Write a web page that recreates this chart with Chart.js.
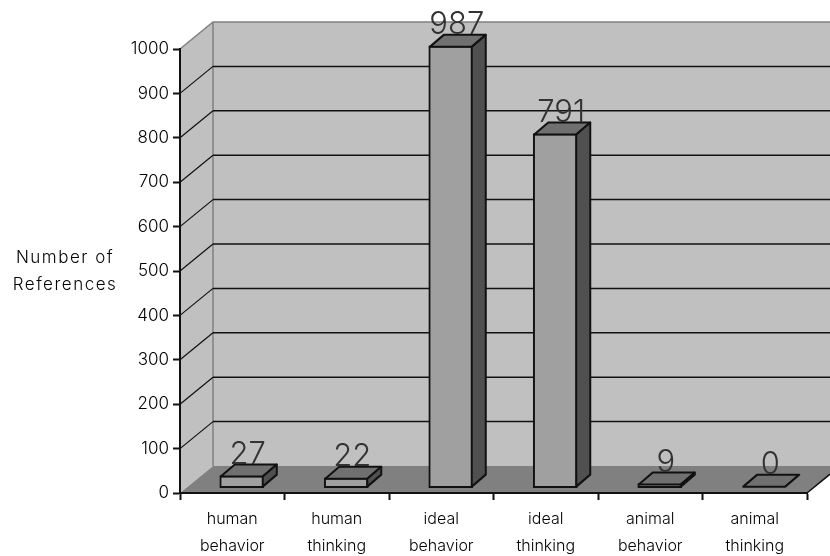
<!DOCTYPE html>
<html><head><meta charset="utf-8">
<style>html,body{margin:0;padding:0;background:#fff}#w{position:relative;width:830px;height:556px}</style>
<script src="https://cdn.jsdelivr.net/npm/chart.js@4/dist/chart.umd.min.js"></script>
</head><body><div id="w"><canvas id="c" width="830" height="556"></canvas></div>
<script>
const categories = [["human","behavior"],["human","thinking"],["ideal","behavior"],["ideal","thinking"],["animal","behavior"],["animal","thinking"]];
const references = [27,22,987,791,9,0];
const yTitleLines = ["Number of","References"];
const axisMin = 0, axisMax = 1000, axisStep = 100;
const barAxisMin = -12, barAxisMax = 980;
const wallDepth = {x:33,y:-27}, barDepth = {x:14,y:-12}, barShift = 9.5;
const valueFont = '300 31px "Inter","Liberation Sans",sans-serif';
const labelFamily = '"Inter","Liberation Sans",Arial,sans-serif';
const textSpacing = '1.5px';

const walls = {
  id:'walls',
  beforeDraw(ch){
    const c=ch.ctx, x=ch.scales.x, y=ch.scales.y, L=x.left, R=x.right, T=y.getPixelForValue(axisMax), B=y.getPixelForValue(axisMin);
    const dx=wallDepth.x, dy=wallDepth.y, W=ch.width;
    c.save();
    c.fillStyle='#c0c0c0';
    c.fillRect(L+dx,T+dy,W-L-dx,B-T);
    c.beginPath();c.moveTo(L,T);c.lineTo(L+dx,T+dy);c.lineTo(L+dx,B+dy);c.lineTo(L,B);c.closePath();c.fill();
    c.fillStyle='#808080';
    c.beginPath();c.moveTo(L,B);c.lineTo(L+dx,B+dy);c.lineTo(W,B+dy);c.lineTo(W,B+dy*(W-R)/dx);c.lineTo(R,B);c.closePath();c.fill();
    c.strokeStyle='#808080';c.lineWidth=1.5;
    c.beginPath();c.moveTo(L,T);c.lineTo(L+dx,T+dy);c.lineTo(W,T+dy);c.moveTo(L+dx,T+dy);c.lineTo(L+dx,B+dy);c.stroke();
    c.strokeStyle='#111';
    for(let v=axisMin+axisStep;v<axisMax;v+=axisStep){
      const p=y.getPixelForValue(v);
      c.lineWidth=1.5;
      c.beginPath();c.moveTo(L+dx,p+dy);c.lineTo(W,p+dy);c.stroke();
      c.lineWidth=1.2;
      c.beginPath();c.moveTo(L,p);c.lineTo(L+dx,p+dy);c.stroke();
    }
    c.lineWidth=1.5;
    c.beginPath();c.moveTo(R,B);c.lineTo(W,B+dy*(W-R)/dx);c.stroke();
    c.font='300 17px '+labelFamily;c.fillStyle='#000';c.textAlign='center';c.textBaseline='middle';
    c.letterSpacing=textSpacing;
    yTitleLines.forEach((t,i)=>c.fillText(t,65,258+i*26.5));
    c.restore();
  },
  beforeDatasetsDraw(ch){ch.ctx.save();ch.ctx.translate(barShift,0);},
  afterDatasetsDraw(ch){
    const c=ch.ctx, m=ch.getDatasetMeta(0), dx=barDepth.x, dy=barDepth.y;
    m.data.forEach((b,i)=>{
      const l=b.x-b.width/2+1, r=b.x+b.width/2-1, t=b.y+1, f=b.base-1, top=Math.min(t,f);
      c.lineWidth=2;c.strokeStyle='#111';c.lineJoin='round';
      c.fillStyle='#707070';
      c.beginPath();c.moveTo(l,top);c.lineTo(l+dx,top+dy);c.lineTo(r+dx,top+dy);c.lineTo(r,top);c.closePath();c.fill();c.stroke();
      if(f-top>0){
        c.fillStyle='#505050';
        c.beginPath();c.moveTo(r,top);c.lineTo(r+dx,top+dy);c.lineTo(r+dx,f+dy);c.lineTo(r,f);c.closePath();c.fill();c.stroke();
      }
      c.save();
      c.letterSpacing='0px';
      c.font=valueFont;c.fillStyle='#333';c.textAlign='center';c.textBaseline='alphabetic';
      c.fillText(String(references[i]),b.x+6,top+dy-1);
      c.restore();
    });
    c.restore();
  }
};

const canvas=document.getElementById('c');
canvas.getContext('2d').letterSpacing=textSpacing;
const chart = new Chart(canvas,{
  type:'bar',
  data:{labels:categories,datasets:[{data:references,yAxisID:'yBars',xAxisID:'x',backgroundColor:'#a0a0a0',borderColor:'#111',borderWidth:2,borderSkipped:false,barThickness:44,clip:false}]},
  plugins:[walls],
  options:{
    responsive:false,animation:false,
    layout:{padding:{top:49,right:23,bottom:0,left:0}},
    plugins:{legend:{display:false},tooltip:{enabled:false},title:{display:false}},
    scales:{
      x:{type:'category',offset:true,
        afterFit(s){s.height=63;},
        grid:{drawOnChartArea:false,drawTicks:true,tickLength:7,tickColor:'#111',tickWidth:2,offset:true},
        border:{display:true,color:'#111',width:2},
        ticks:{color:'#000',font:{family:labelFamily,size:16,weight:'300',lineHeight:27/16},padding:6,maxRotation:0,autoSkip:false}},
      y:{type:'linear',position:'left',min:axisMin,max:axisMax,
        afterFit(s){s.width=180;},
        grid:{drawOnChartArea:false,tickLength:7,tickColor:'#111',tickWidth:2},
        border:{display:true,color:'#111',width:2},
        ticks:{stepSize:axisStep,color:'#000',font:{family:labelFamily,size:17,weight:'300'},padding:4,callback:v=>String(v)}},
      yBars:{type:'linear',display:false,min:barAxisMin,max:barAxisMax}
    }
  }
});
</script></body></html>
